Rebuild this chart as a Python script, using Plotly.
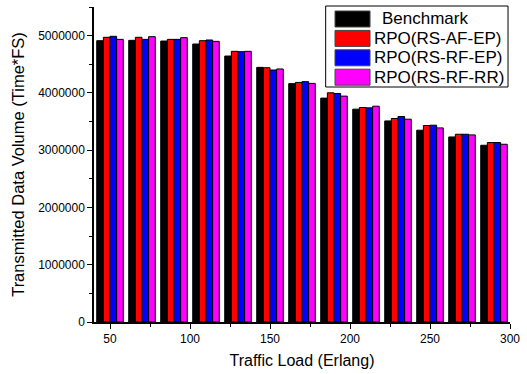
import plotly.graph_objects as go

loads = [50, 70, 90, 110, 130, 150, 170, 190, 210, 230, 250, 270, 290]
benchmark = [4912000, 4918000, 4906000, 4854000, 4644000, 4446000, 4162000, 3909000, 3716000, 3511000, 3349000, 3231000, 3086000]
rs_af_ep = [4971000, 4971000, 4935000, 4912000, 4726000, 4440000, 4183000, 4002000, 3745000, 3553000, 3431000, 3278000, 3133000]
rs_rf_ep = [4988000, 4935000, 4935000, 4924000, 4720000, 4400000, 4197000, 3990000, 3739000, 3588000, 3436000, 3278000, 3133000]
rs_rf_rr = [4935000, 4982000, 4965000, 4900000, 4726000, 4418000, 4166000, 3944000, 3768000, 3541000, 3389000, 3267000, 3103000]

series_names = ["Benchmark", "RPO(RS-AF-EP)", "RPO(RS-RF-EP)", "RPO(RS-RF-RR)"]
series_values = [benchmark, rs_af_ep, rs_rf_ep, rs_rf_rr]
colors = ["#000000", "#ff0000", "#0000ff", "#ff00ff"]

W, H = 527, 374
ML, MR, MT, MB = 94, 11, 7, 52
PW, PH = W - ML - MR, H - MT - MB


def px(xp):
    return (xp - ML) / PW


def py(yp):
    return (H - MB - yp) / PH


fig = go.Figure()
for name, vals, c in zip(series_names, series_values, colors):
    fig.add_trace(go.Bar(
        x=loads, y=vals, name=name, showlegend=False,
        marker=dict(color=c, line=dict(color="#000000", width=1)),
    ))

font = "Liberation Sans, Arial, sans-serif"

# legend box drawn as in the original (large swatches)
shapes = [dict(type="rect", xref="paper", yref="paper",
               x0=px(329), x1=px(514), y0=py(6), y1=py(87),
               line=dict(color="black", width=1), fillcolor="white", layer="above")]
annotations = []
pitch = 19.4
for i, (name, c) in enumerate(zip(series_names, colors)):
    top = 11 + pitch * i
    shapes.append(dict(type="rect", xref="paper", yref="paper",
                       x0=px(338.5), x1=px(374), y0=py(top), y1=py(top + 16),
                       line=dict(color="#444444", width=1), fillcolor=c, layer="above"))
    annotations.append(dict(xref="paper", yref="paper", x=px(376), y=py(top + 8),
                            xanchor="left", yanchor="middle", showarrow=False,
                            xshift=8 if i == 0 else 0,
                            text=name, font=dict(size=17, family=font, color="black")))

fig.update_layout(
    width=W, height=H,
    margin=dict(l=ML, r=MR, t=MT, b=MB),
    paper_bgcolor="white", plot_bgcolor="white",
    barmode="group", bargap=0.17, bargroupgap=0,
    font=dict(family=font, color="black", size=12),
    showlegend=False,
    shapes=shapes, annotations=annotations,
)
fig.update_xaxes(
    range=[40, 300], tickvals=[50, 100, 150, 200, 250, 300],
    ticks="outside", ticklen=5, tickwidth=1, tickcolor="black",
    minor=dict(dtick=25, tick0=0, ticks="outside", ticklen=3, tickcolor="black"),
    showline=True, linecolor="black", linewidth=1.5, showgrid=False, zeroline=False,
    tickfont=dict(size=12),
    title=dict(text="Traffic Load (Erlang)", font=dict(size=16), standoff=10),
)
fig.update_yaxes(
    range=[0, 5500000], dtick=1000000, tick0=0, tickformat="d",
    ticks="outside", ticklen=5, tickwidth=1, tickcolor="black",
    minor=dict(dtick=500000, ticks="outside", ticklen=3, tickcolor="black"),
    showline=True, linecolor="black", linewidth=1.5, showgrid=False, zeroline=False,
    tickfont=dict(size=12),
    title=dict(text="Transmitted Data Volume (Time*FS)", font=dict(size=16.5), standoff=9),
)
fig.write_html("out.html", config={"displayModeBar": False},
               post_script="document.body.style.margin='0';document.body.style.overflow='hidden';")
